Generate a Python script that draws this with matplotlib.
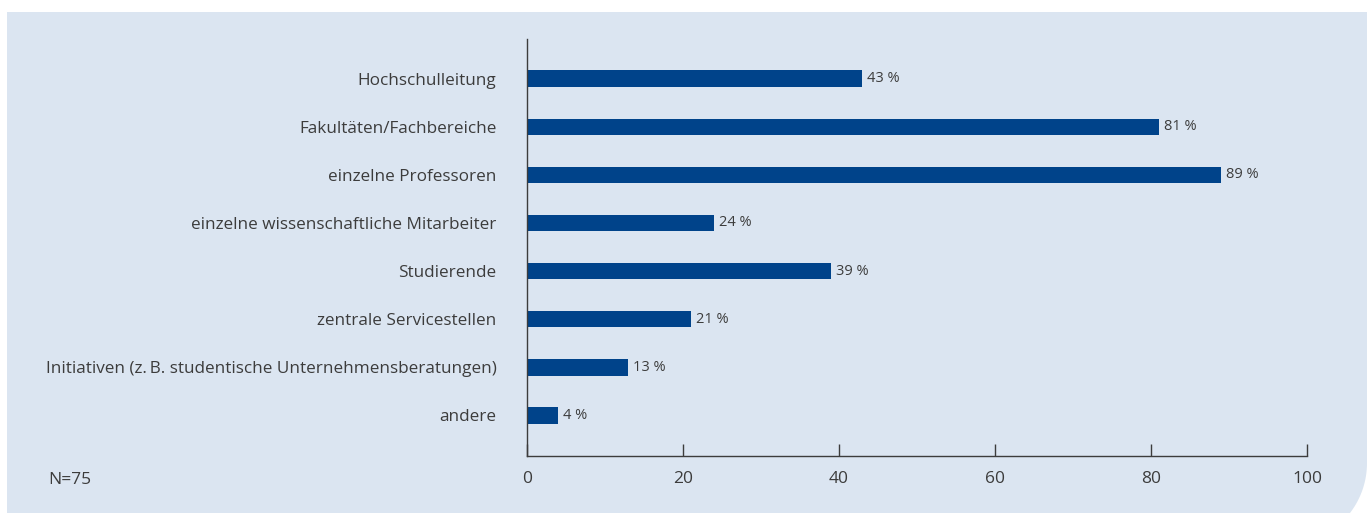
import numpy as np
import matplotlib
matplotlib.use("Agg")
import matplotlib.pyplot as plt
from matplotlib.patches import Polygon

plt.rcParams['font.family'] = ['Open Sans', 'DejaVu Sans']

kategorien = [
    "Hochschulleitung",
    "Fakultäten/Fachbereiche",
    "einzelne Professoren",
    "einzelne wissenschaftliche Mitarbeiter",
    "Studierende",
    "zentrale Servicestellen",
    "Initiativen (z.\u2009B. studentische Unternehmensberatungen)",
    "andere",
]
anteile = [43, 81, 89, 24, 39, 21, 13, 4]
x_ticks = [0, 20, 40, 60, 80, 100]
fussnote = "N=75"

blau = "#00438a"
grau = "#3c3c3c"
hintergrund = "#dbe5f1"

fig = plt.figure(figsize=(13.71, 5.13), dpi=100)
fig.patch.set_facecolor("white")

# panel with rounded bottom-right corner (pixel coords -> figure fraction)
W, H = 1371.0, 513.0
left, top, right, r = 7, 12, 1367, 82
cx, cy = right - r, 463
pts = [(left, top), (right, top), (right, cy)]
for a in np.linspace(0, np.pi / 2, 40):
    pts.append((cx + r * np.cos(a), cy + r * np.sin(a)))
pts += [(left, cy + r)]
pts = [(x / W, 1 - y / H) for x, y in pts]
fig.patches.append(Polygon(pts, closed=True, transform=fig.transFigure,
                           facecolor=hintergrund, edgecolor="none", zorder=-10))

ax = fig.add_axes([527 / W, 1 - 456 / H, (1307 - 527) / W, (456 - 39) / H])
ax.set_zorder(5)
ax.patch.set_visible(False)

y = np.arange(len(kategorien))
ax.barh(y, anteile, height=0.35, color=blau)
for yi, v in zip(y, anteile):
    ax.annotate(f"{v} %", (v, yi), xytext=(3.5, 0), textcoords="offset points",
                va="center", ha="left", fontsize=10.5, color=grau)

ax.set_xlim(0, 100)
ax.set_ylim(len(kategorien) - 0.15, -0.83)
ax.set_xticks(x_ticks)
ax.set_yticks(y)
ax.set_yticklabels(kategorien)

for s in ["top", "right"]:
    ax.spines[s].set_visible(False)
for s in ["left", "bottom"]:
    ax.spines[s].set_color(grau)
    ax.spines[s].set_linewidth(1.0)

ax.tick_params(axis="x", direction="in", length=9, width=1.0, color=grau,
               pad=11, labelsize=12.5, labelcolor=grau)
ax.tick_params(axis="y", length=0, pad=22, labelsize=12.3, labelcolor=grau)

fig.text(48 / W, 1 - 480 / H, fussnote, ha="left", va="center",
         fontsize=12.5, color=grau, zorder=6)

fig.savefig("out.png", dpi=100)
